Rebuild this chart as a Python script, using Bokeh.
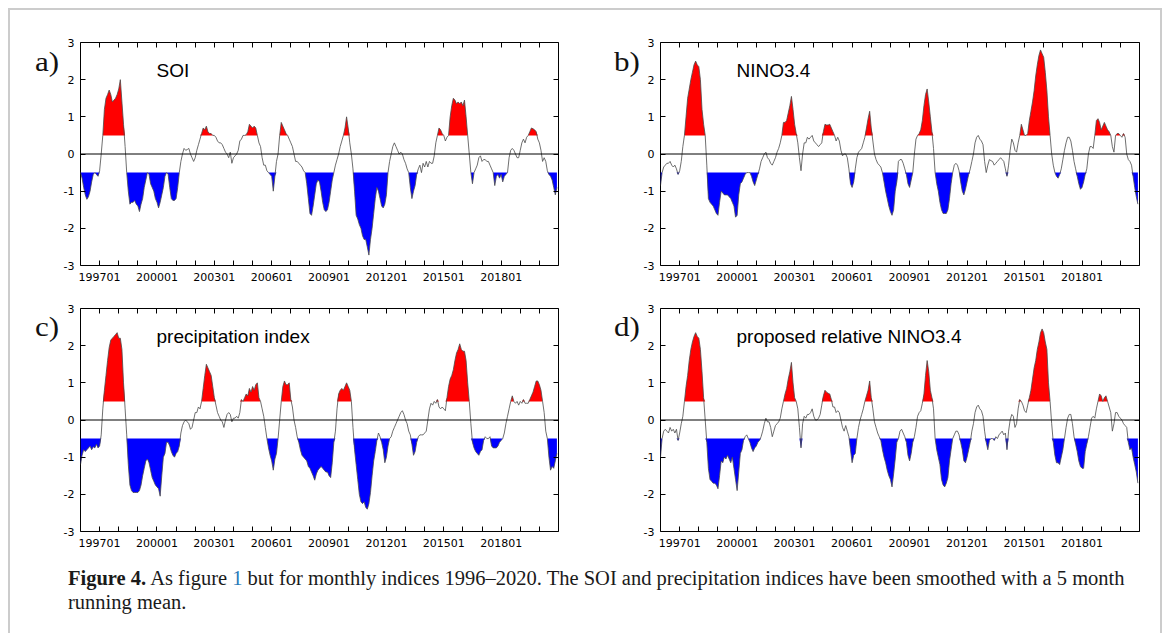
import numpy as np
from bokeh.plotting import figure
from bokeh.models import Range1d, FixedTicker, LinearAxis, Label, Div, Span
from bokeh.layouts import column, row
from bokeh.embed import file_html
from bokeh.resources import INLINE

# month index: 0 = 1996-01 ... 299 = 2020-12
months = list(range(300))

soi = [
    -0.5, -0.65, -0.9, -1.1, -1.22, -1.15, -1.0, -0.75, -0.55, -0.5, -0.55, -0.6,
    -0.45, 0.0, 0.5, 1.2, 1.5, 1.6, 1.72, 1.6, 1.4, 1.45, 1.5, 1.6,
    1.75, 2.0, 1.4, 0.8, 0.2, -0.5, -1.0, -1.35, -1.3, -1.3, -1.25, -1.35,
    -1.4, -1.55, -1.35, -1.2, -0.9, -0.7, -0.5, -0.55, -0.8, -0.9, -1.0, -1.2,
    -1.3, -1.45, -1.3, -1.1, -0.9, -0.6, -0.5, -0.55, -0.9, -1.2, -1.25, -1.25,
    -1.2, -0.9, -0.5, -0.2, 0.0, 0.15, 0.1, 0.12, 0.15, 0.0, -0.1, -0.2,
    -0.1, 0.1, 0.25, 0.4, 0.55, 0.7, 0.65, 0.75, 0.6, 0.55, 0.55, 0.5,
    0.5, 0.45, 0.35, 0.3, 0.3, 0.25, 0.15, 0.05, 0.0, -0.1, 0.05, -0.25,
    -0.1, -0.05, 0.0, 0.1, 0.35, 0.4, 0.5, 0.5, 0.52, 0.6, 0.8, 0.75,
    0.7, 0.75, 0.7, 0.5, 0.3, 0.2, -0.1, -0.3, -0.3, -0.45, -0.5, -0.55,
    -0.6, -1.0, -0.6, -0.2, 0.0, 0.5, 0.85, 0.75, 0.65, 0.55, 0.5, 0.4,
    0.3, 0.2, 0.0, -0.2, -0.2, -0.25, -0.3, -0.35, -0.45, -0.5, -0.8, -1.2,
    -1.6, -1.65, -1.4, -1.1, -0.8, -0.7, -0.75, -1.0, -1.3, -1.5, -1.55, -1.5,
    -1.3, -1.0, -0.7, -0.5, -0.3, -0.15, 0.0, 0.2, 0.35, 0.5, 0.7, 1.0,
    0.7, 0.3, 0.0, -0.4, -1.0, -1.65, -1.75, -1.9, -2.0, -2.2, -2.3, -2.3,
    -2.5, -2.72, -2.3, -2.0, -1.6, -1.2, -0.9, -1.0, -1.2, -1.4, -1.45, -1.35,
    -1.1, -0.5, -0.2, 0.0, 0.2, 0.3, 0.2, 0.1, 0.0, 0.05, 0.0, -0.15,
    -0.25, -0.4, -0.5, -0.9, -1.2, -1.0, -0.85, -0.55, -0.4, -0.3, -0.5, -0.25,
    -0.35, -0.2, -0.35, -0.2, -0.25, -0.25, -0.05, 0.3, 0.5, 0.7, 0.65, 0.55,
    0.5, 0.35, 0.45, 0.5, 1.0, 1.3, 1.5, 1.45, 1.35, 1.4, 1.35, 1.4,
    1.3, 1.45, 1.0, 0.5, 0.0, -0.5, -0.8, -0.5, -0.4, -0.3, -0.1, -0.05,
    -0.2, -0.15, -0.15, -0.2, -0.2, -0.3, -0.4, -0.5, -0.85, -0.6, -0.55, -0.65,
    -0.55, -0.75, -0.6, -0.55, -0.5, -0.1, 0.1, 0.15, 0.1, 0.0, -0.1, -0.1,
    0.1, 0.3, 0.4, 0.3, 0.45, 0.5, 0.6, 0.7, 0.68, 0.65, 0.6, 0.4,
    0.3, 0.1, -0.2, -0.1, -0.2, -0.45, -0.55, -0.6, -0.7, -0.9, -1.1, -0.9,
]

nino34 = [
    -0.85, -0.5, -0.35, -0.3, -0.25, -0.25, -0.2, -0.3, -0.35, -0.3, -0.4, -0.55,
    -0.45, -0.2, 0.2, 0.5, 1.0, 1.5, 1.75, 2.0, 2.2, 2.4, 2.5, 2.4,
    2.35, 2.0, 1.2, 0.8, 0.5, -0.3, -1.2, -1.3, -1.35, -1.4, -1.5, -1.6,
    -1.65, -1.3, -1.0, -1.05, -1.1, -1.1, -1.1, -1.15, -1.2, -1.3, -1.4, -1.7,
    -1.65, -1.1, -0.8, -0.75, -0.65, -0.55, -0.5, -0.5, -0.5, -0.6, -0.75, -0.85,
    -0.7, -0.55, -0.4, -0.2, -0.1, 0.0, 0.05, -0.1, -0.15, -0.25, -0.3, -0.2,
    -0.1, 0.05, 0.15, 0.3, 0.5, 0.85, 0.85, 0.9, 1.1, 1.3, 1.55, 1.2,
    0.8, 0.55, 0.3, -0.1, -0.45, 0.0, 0.3, 0.3, 0.45, 0.4, 0.45, 0.5,
    0.35, 0.3, 0.25, 0.2, 0.25, 0.3, 0.6, 0.8, 0.78, 0.78, 0.8, 0.7,
    0.6, 0.5, 0.35, 0.45, 0.35, 0.1, -0.05, 0.0, 0.0, -0.1, -0.4, -0.8,
    -0.9, -0.75, -0.4, -0.1, 0.05, 0.1, 0.15, 0.3, 0.45, 0.7, 0.95, 1.15,
    0.7, 0.35, 0.0, -0.15, -0.25, -0.3, -0.35, -0.5, -0.75, -1.0, -1.2, -1.4,
    -1.55, -1.65, -1.5, -1.0, -0.75, -0.2, -0.15, -0.15, -0.25, -0.4, -0.55, -0.8,
    -0.9, -0.7, -0.5, 0.0, 0.4, 0.5, 0.55, 0.65, 0.9, 1.3, 1.6, 1.75,
    1.4, 1.0, 0.6, 0.15, -0.5, -0.8, -1.0, -1.3, -1.5, -1.6, -1.6, -1.6,
    -1.5, -1.2, -0.8, -0.5, -0.3, -0.25, -0.3, -0.45, -0.75, -1.0, -1.1, -0.95,
    -0.75, -0.55, -0.4, -0.2, 0.0, 0.3, 0.45, 0.5, 0.4, 0.35, 0.25, -0.2,
    -0.5, -0.3, -0.15, -0.18, -0.2, -0.3, -0.25, -0.2, -0.15, -0.1, -0.15, -0.2,
    -0.4, -0.6, -0.3, 0.1, 0.4, 0.3, 0.1, 0.05, 0.3, 0.5, 0.8, 0.65,
    0.5, 0.5, 0.55, 0.9, 1.15, 1.4, 1.7, 2.1, 2.4, 2.65, 2.8, 2.7,
    2.6, 2.2, 1.7, 1.0, 0.5, 0.0, -0.3, -0.5, -0.6, -0.65, -0.55, -0.4,
    -0.15, 0.1, 0.3, 0.45, 0.45, 0.35, 0.1, -0.2, -0.4, -0.6, -0.8, -0.95,
    -0.9, -0.75, -0.55, -0.4, 0.0, 0.2, 0.2, 0.15, 0.5, 0.9, 0.95, 0.85,
    0.65, 0.75, 0.85, 0.75, 0.65, 0.6, 0.5, 0.2, 0.05, 0.5, 0.55, 0.55,
    0.5, 0.45, 0.55, 0.45, 0.0, -0.15, -0.2, -0.3, -0.6, -0.9, -1.15, -1.35,
]

precip = [
    -1.2, -0.95, -0.8, -0.85, -0.8, -0.75, -0.7, -0.8, -0.72, -0.75, -0.65, -0.75,
    -0.7, -0.4, 0.3, 0.8, 1.2, 1.6, 1.95, 2.15, 2.2, 2.25, 2.3, 2.35,
    2.2, 2.2, 1.9, 1.0, 0.3, -0.4, -1.2, -1.75, -1.9, -1.95, -1.95, -1.95,
    -1.95, -1.9, -1.75, -1.5, -1.3, -1.1, -1.05, -1.15, -1.35, -1.55, -1.65, -1.75,
    -1.8, -1.85, -2.05, -1.5, -1.0, -0.9, -0.6, -0.6, -0.7, -0.85, -0.95, -1.0,
    -0.9, -0.85, -0.7, -0.35, -0.15, -0.05, 0.0, -0.05, -0.1, -0.25, -0.2, 0.0,
    0.2, 0.2, 0.35, 0.3, 0.5, 0.85, 1.2, 1.5, 1.4, 1.3, 1.2, 0.9,
    0.6, 0.4, 0.2, 0.1, 0.0, -0.05, -0.2, 0.0, 0.15, 0.2, 0.15, -0.05,
    0.05, 0.05, 0.1, 0.05, 0.2, 0.55, 0.5, 0.6, 0.7, 0.65, 0.85, 0.75,
    0.9, 0.8, 0.95, 1.0, 0.6, 0.5, 0.3, 0.1, -0.2, -0.5, -0.75, -0.95,
    -1.1, -1.35, -1.05, -0.9, -0.5, 0.0, 0.5, 0.9, 1.05, 0.95, 0.95, 1.0,
    0.55, 0.35, 0.0, -0.2, -0.45, -0.6, -0.8, -0.95, -1.0, -1.05, -1.1, -1.25,
    -1.3, -1.4, -1.5, -1.62, -1.45, -1.35, -1.3, -1.25, -1.3, -1.35, -1.4, -1.4,
    -1.5, -1.55, -1.15, -0.6, -0.3, 0.3, 0.7, 0.8, 0.85, 0.8, 0.9, 1.0,
    0.9, 0.8, 0.5, -0.2, -0.8, -1.2, -1.6, -2.0, -2.2, -2.25, -2.2, -2.35,
    -2.4, -2.25, -1.95, -1.5, -1.1, -0.85, -0.55, -0.35, -0.45, -0.6, -0.8, -1.15,
    -1.0, -0.7, -0.5, -0.45, -0.3, -0.2, -0.1, 0.0, 0.1, 0.2, 0.25, 0.15,
    0.0, -0.1, -0.3, -0.4, -0.65, -0.95, -0.85, -0.6, -0.45, -0.4, -0.4, -0.4,
    -0.35, -0.3, 0.0, 0.3, 0.45, 0.4, 0.5, 0.45, 0.55, 0.35, 0.3, 0.35,
    0.3, 0.25, 0.6, 0.9, 1.1, 1.2, 1.35, 1.6, 1.8, 1.9, 2.05, 1.9,
    1.85, 1.85, 1.6, 1.0, 0.5, -0.1, -0.6, -0.75, -0.85, -0.9, -0.95, -0.85,
    -0.8, -0.55, -0.45, -0.5, -0.5, -0.45, -0.7, -0.75, -0.75, -0.75, -0.7, -0.6,
    -0.55, -0.5, -0.35, -0.1, 0.1, 0.3, 0.5, 0.65, 0.5, 0.45, 0.5, 0.4,
    0.5, 0.45, 0.55, 0.45, 0.45, 0.45, 0.55, 0.65, 0.75, 0.9, 1.05, 1.05,
    0.95, 0.8, 0.5, 0.2, -0.3, -0.5, -1.0, -1.35, -1.25, -1.3, -1.1, -0.9,
]

rel_nino34 = [
    -1.0, -0.5, -0.3, -0.25, -0.3, -0.35, -0.2, -0.3, -0.25, -0.35, -0.25, -0.55,
    -0.35, -0.1, 0.1, 0.5, 0.9, 1.2, 1.6, 1.9, 2.1, 2.25, 2.35, 2.25,
    2.2, 1.9, 1.3, 0.6, 0.0, -0.6, -1.3, -1.6, -1.65, -1.7, -1.7, -1.75,
    -1.85, -1.5, -1.1, -1.15, -1.0, -1.05, -0.95, -1.05, -1.15, -1.0, -1.3, -1.6,
    -1.9, -1.4, -0.9, -0.8, -0.55, -0.45, -0.4, -0.5, -0.6, -0.75, -0.85, -0.75,
    -0.7, -0.6, -0.55, -0.45, -0.3, -0.1, 0.05, -0.05, -0.05, -0.2, -0.45, -0.3,
    -0.15, -0.1, -0.05, 0.05, 0.3, 0.5, 0.7, 0.85, 1.1, 1.3, 1.55, 1.0,
    0.6, 0.5, 0.3, -0.2, -0.75, -0.1, 0.1, 0.05, 0.15, 0.15, 0.2, 0.3,
    0.1, 0.0, 0.0, 0.05, 0.15, 0.4, 0.65, 0.8, 0.75, 0.72, 0.7, 0.55,
    0.35, 0.35, 0.2, 0.25, 0.2, 0.0, -0.2, -0.3, -0.15, -0.3, -0.45, -0.8,
    -1.15, -0.95, -0.9, -0.5, -0.2, 0.0, 0.15, 0.3, 0.5, 0.65, 0.8, 1.05,
    0.6, 0.3, -0.05, -0.2, -0.35, -0.45, -0.55, -0.8, -1.0, -1.15, -1.35, -1.5,
    -1.6, -1.8, -1.45, -1.05, -0.6, -0.5, -0.3, -0.25, -0.35, -0.45, -0.6, -0.95,
    -1.1, -0.9, -0.6, -0.45, -0.2, 0.1, 0.2, 0.25, 0.45, 0.7, 1.2, 1.6,
    1.3, 0.8, 0.6, 0.3, -0.5, -0.8, -1.0, -1.2, -1.6, -1.75, -1.8, -1.7,
    -1.55, -1.1, -0.8, -0.5, -0.4, -0.3, -0.3, -0.4, -0.6, -0.8, -1.1, -1.15,
    -1.0, -0.8, -0.6, -0.3, -0.1, 0.2, 0.35, 0.4, 0.3, 0.25, 0.1, -0.3,
    -0.6, -0.8, -0.55, -0.5, -0.5, -0.55, -0.45, -0.5, -0.4, -0.35, -0.3, -0.4,
    -0.35, -0.8, -0.3, 0.0, 0.15, 0.1, -0.2, -0.1, 0.3, 0.55, 0.5, 0.4,
    0.25, 0.2, 0.4, 0.6, 0.8, 1.1, 1.4, 1.6, 1.9, 2.1, 2.35, 2.45,
    2.35, 2.1, 1.9, 1.0, 0.5, -0.1, -0.6, -0.95, -1.15, -1.15, -1.2, -1.0,
    -0.8, -0.5, -0.2, 0.05, 0.15, 0.15, -0.1, -0.45, -0.65, -0.85, -1.1, -1.25,
    -1.3, -1.3, -0.85, -0.65, -0.45, -0.2, 0.05, 0.1, 0.05, 0.3, 0.5, 0.7,
    0.65, 0.5, 0.6, 0.65, 0.5, 0.35, 0.2, -0.3, -0.1, 0.2, 0.2, 0.1,
    0.05, 0.0, -0.1, -0.15, -0.2, -0.6, -0.8, -0.75, -1.0, -1.2, -1.4, -1.7,
]

panel_letters = ["a)", "b)", "c)", "d)"]
panel_titles = ["SOI", "NINO3.4", "precipitation index", "proposed relative NINO3.4"]
x_tick_months = list(range(12, 300, 12))
x_label_months = [12, 48, 84, 120, 156, 192, 228, 264]
x_tick_labels = ["199701", "200001", "200301", "200601", "200901", "201201", "201501", "201801"]
y_ticks = [-3, -2, -1, 0, 1, 2, 3]
upper_threshold = 0.5
lower_threshold = -0.5

FRAME_W = 479
FRAME_H = 223
TICK_FONT = "DejaVu Sans"
TITLE_FONT = "Liberation Sans"


def make_panel(values, title, left, right, top, bottom):
    v = np.array(values, dtype=float)
    p = figure(
        width=left + FRAME_W + right,
        height=top + FRAME_H + bottom,
        x_range=Range1d(0, 300),
        y_range=Range1d(-3, 3),
        output_backend="svg",
        toolbar_location=None,
        min_border_left=left,
        min_border_right=right,
        min_border_top=top,
        min_border_bottom=bottom,
        background_fill_color="white",
        border_fill_color="white",
        outline_line_color="black",
        outline_line_width=1,
        margin=0,
    )
    p.xgrid.visible = False
    p.ygrid.visible = False

    p.varea(x=months, y1=upper_threshold, y2=np.maximum(v, upper_threshold),
            fill_color="#ff0000")
    p.varea(x=months, y1=lower_threshold, y2=np.minimum(v, lower_threshold),
            fill_color="#0000ff")
    p.add_layout(Span(location=0, dimension="width", line_color="black", line_width=1))
    p.line(months, v, line_color="#4a4a4a", line_width=0.8)

    overrides_x = {m: "" for m in x_tick_months}
    for m, lab in zip(x_label_months, x_tick_labels):
        overrides_x[m] = lab
    overrides_y = {t: str(t) for t in y_ticks}

    xa = p.xaxis[0]
    xa.ticker = FixedTicker(ticks=x_tick_months)
    xa.major_label_overrides = overrides_x
    ya = p.yaxis[0]
    ya.ticker = FixedTicker(ticks=y_ticks)
    ya.major_label_overrides = overrides_y
    for ax in (xa, ya):
        ax.major_tick_in = 5
        ax.major_tick_out = 0
        ax.minor_tick_line_color = None
        ax.axis_line_color = None
        ax.major_tick_line_color = "black"
        ax.major_label_text_font = TICK_FONT
        ax.major_label_text_font_size = "11px"
        ax.major_label_text_color = "black"
    xa.major_label_standoff = 7
    ya.major_label_standoff = 6

    top_ax = LinearAxis(ticker=FixedTicker(ticks=x_tick_months),
                        major_label_overrides={m: "" for m in x_tick_months})
    right_ax = LinearAxis(ticker=FixedTicker(ticks=y_ticks),
                          major_label_overrides={t: "" for t in y_ticks})
    for ax in (top_ax, right_ax):
        ax.major_tick_in = 5
        ax.major_tick_out = 0
        ax.minor_tick_line_color = None
        ax.axis_line_color = None
        ax.major_label_text_font_size = "0px"
        ax.major_label_standoff = 0
    p.add_layout(top_ax, "above")
    p.add_layout(right_ax, "right")

    p.add_layout(Label(x=76, y=FRAME_H - 27.5, x_units="screen", y_units="screen",
                       text=title, text_font=TITLE_FONT, text_font_size="19px",
                       text_color="black", text_baseline="alphabetic"))
    return p


def letter_div(letter, height, pad_top, pad_left):
    html = (
        f'<div style="font-family:\'Liberation Serif\',serif;font-size:27px;line-height:27px;'
        f'color:#111;padding:{pad_top}px 0 0 {pad_left}px;white-space:nowrap;">'
        f'<span style="display:inline-block;transform:scaleX(1.15);transform-origin:left;">'
        f'{letter}</span></div>'
    )
    return Div(text=html, width=50, height=height, margin=0)


ROW1_H = 32 + FRAME_H + 30
ROW2_H = 13 + FRAME_H + 30

fa = make_panel(soi, panel_titles[0], 19, 32, 32, 30)
fb = make_panel(nino34, panel_titles[1], 20, 21, 32, 30)
fc = make_panel(precip, panel_titles[2], 19, 32, 13, 30)
fd = make_panel(rel_nino34, panel_titles[3], 20, 21, 13, 30)

la = letter_div(panel_letters[0], ROW1_H, 39, 25)
lb = letter_div(panel_letters[1], ROW1_H, 39, 24)
lc = letter_div(panel_letters[2], ROW2_H, 19, 25)
ld = letter_div(panel_letters[3], ROW2_H, 19, 24)

caption_html = (
    '<div style="font-family:\'Liberation Serif\',serif;font-size:20.5px;line-height:24px;'
    'color:#1a1a1a;padding:5px 0 0 58px;white-space:nowrap;">'
    '<b>Figure 4.</b> As figure <span style="color:#2a7ab8">1</span> but for monthly '
    'indices 1996–2020. The SOI and precipitation indices have been smoothed with a 5 month'
    '<br>running mean.</div>'
)
caption = Div(text=caption_html, width=1150, height=72, margin=0)

layout = column(
    row(la, fa, lb, fb, margin=0),
    row(lc, fc, ld, fd, margin=0),
    caption,
    margin=0,
    styles={
        "margin-left": "8px",
        "margin-top": "8px",
        "border-top": "2px solid #cccccc",
        "border-left": "2px solid #cccccc",
        "border-right": "2px solid #cccccc",
    },
)

open("out.html", "w").write(file_html(layout, INLINE))
